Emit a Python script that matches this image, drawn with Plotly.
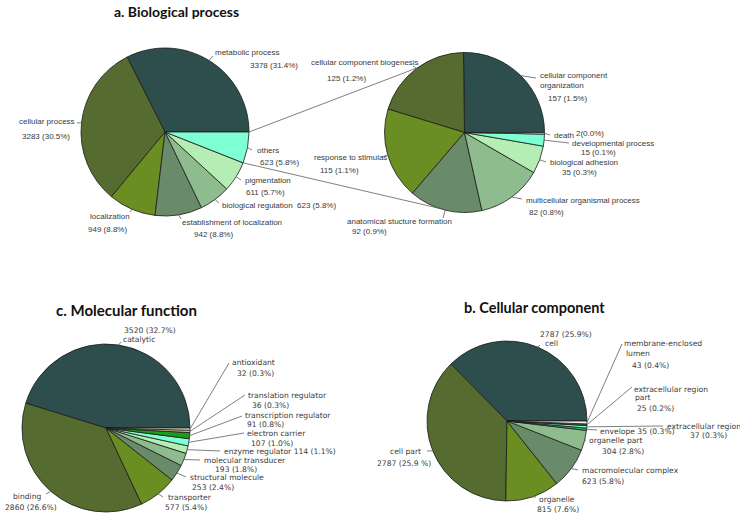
import math
import plotly.graph_objects as go

W, H = 740, 517

# ---------------- data ----------------
bp_categories = ["metabolic process", "cellular process", "localization",
                 "establishment of localization", "biological regulation",
                 "pigmentation", "others"]
bp_values = [3378, 3283, 949, 942, 623, 611, 623]
bp_value_labels = ["3378 (31.4%)", "3283 (30.5%)", "949 (8.8%)", "942 (8.8%)",
                   "623 (5.8%)", "611 (5.7%)", "623 (5.8%)"]

oth_categories = ["cellular component organization", "cellular component biogenesis",
                  "response to stimulas", "anatomical stucture formation",
                  "multicellular organismal process", "biological adhesion",
                  "developmental process", "death"]
oth_values = [157, 125, 115, 92, 82, 35, 15, 2]
oth_value_labels = ["157 (1.5%)", "125 (1.2%)", "115 (1.1%)", "92 (0.9%)",
                    "82 (0.8%)", "35 (0.3%)", "15 (0.1%)", "2(0.0%)"]

mf_categories = ["catalytic", "binding", "transporter", "structural molecule",
                 "molecular transducer", "enzyme regulator", "electron carrier",
                 "transcription regulator", "translation regulator", "antioxidant"]
mf_values = [3520, 2860, 577, 253, 193, 114, 107, 91, 36, 32]
mf_value_labels = ["3520 (32.7%)", "2860 (26.6%)", "577 (5.4%)", "253 (2.4%)",
                   "193 (1.8%)", "114 (1.1%)", "107 (1.0%)", "91 (0.8%)",
                   "36 (0.3%)", "32 (0.3%)"]

cc_categories = ["cell", "cell part", "organelle", "macromolecular complex",
                 "organelle part", "envelope", "extracellular region",
                 "extracellular region part", "membrane-enclosed lumen"]
cc_values = [2787, 2787, 815, 623, 304, 35, 37, 25, 43]
cc_value_labels = ["2787 (25.9%)", "2787 (25.9 %)", "815 (7.6%)", "623 (5.8%)",
                   "304 (2.8%)", "35 (0.3%)", "37 (0.3%)", "25 (0.2%)", "43 (0.4%)"]

titles = {"bp": "a. Biological process", "mf": "c. Molecular function",
          "cc": "b. Cellular component"}

# ---------------- styles / layout ----------------
SLATE, DOLIVE, OLIVE, SEAG4, SEAG, LGREEN, AQUA = (
    "#2E4E4E", "#556B2F", "#6B8E23", "#698B69", "#8FBC8F", "#B4EEB4", "#7FFFD4")
colors = {
    "bp": [SLATE, DOLIVE, OLIVE, SEAG4, SEAG, LGREEN, AQUA],
    "oth": [SLATE, DOLIVE, OLIVE, SEAG4, SEAG, LGREEN, AQUA, "#E4EAE0"],
    "mf": [SLATE, DOLIVE, OLIVE, SEAG4, SEAG, LGREEN, AQUA, "#1E9A1E", "#C8C08A", "#EEEEE0"],
    "cc": [SLATE, DOLIVE, OLIVE, SEAG4, SEAG, "#3CB371", AQUA, "#2E6B3E", "#F0F0E8"],
}
# pie geometry in pixels (centre x, centre y, radius)
geom = {"bp": (165, 132, 84), "oth": (464.5, 132.5, 80),
        "mf": (106, 428, 84), "cc": (507, 421, 80)}

FONT_A = dict(family="Liberation Sans, Arial, sans-serif", size=8, color="#3A3A3A")
FONT_B = dict(family="DejaVu Sans, Verdana, sans-serif", size=7.6, color="#3A3A3A")
label_font = {"bp": FONT_A, "oth": FONT_A, "mf": FONT_B, "cc": FONT_B}
title_size = {"bp": 14, "mf": 15, "cc": 14.5}
LEADER = dict(color="#606060", width=0.8)

wrap = {"cellular component organization": ["cellular component", "organization"],
        "membrane-enclosed lumen": ["membrane-enclosed", "lumen"],
        "extracellular region part": ["extracellular region", "part"]}

# per label: list of (part, x, centre-y[, x-anchor]); part: n=name, n0/n1 wrapped
# name, v=value, nv=name + value; plus leader tail point
label_layout = {
    "bp": {
        "metabolic process": ([("n", 213, 53), ("v", 248, 66)], (213, 56)),
        "cellular process": ([("n", 17, 122), ("v", 20, 136)], (77, 123)),
        "localization": ([("n", 88, 216), ("v", 86, 229)], (130, 212)),
        "establishment of localization": ([("n", 180, 223), ("v", 192, 234)], (181, 219)),
        "biological regulation": ([("n", 220, 205), ("v", 295, 205)], (219, 203)),
        "pigmentation": ([("n", 243, 180), ("v", 244, 192)], (241, 180)),
        "others": ([("n", 255, 151), ("v", 258, 162)], (252, 150)),
    },
    "oth": {
        "cellular component organization": ([("n0", 538, 76), ("n1", 538, 85), ("v", 546, 98)], (536, 78)),
        "cellular component biogenesis": ([("n", 309, 62), ("v", 325, 78)], (413, 66)),
        "response to stimulas": ([("n", 312, 158), ("v", 318, 170)], (382, 157)),
        "anatomical stucture formation": ([("n", 345, 221), ("v", 350, 231)], (443, 218)),
        "multicellular organismal process": ([("n", 524, 200), ("v", 527, 212)], (522, 199)),
        "biological adhesion": ([("n", 548, 162), ("v", 560, 172.5)], (546, 162)),
        "developmental process": ([("n", 570, 143), ("v", 579, 152.5)], (569, 143)),
        "death": ([("n", 552, 135.5), ("v", 574, 133.5)], (550, 135)),
    },
    "mf": {
        "catalytic": ([("v", 122, 330), ("n", 121, 339)], (121, 342)),
        "binding": ([("n", 43, 496, "right"), ("v", 3, 508)], (46, 494)),
        "transporter": ([("n", 166, 497), ("v", 163, 508)], (163, 497)),
        "structural molecule": ([("n", 188, 477), ("v", 190, 487.5)], (186, 477)),
        "molecular transducer": ([("n", 202, 460), ("v", 213, 469.5)], (200, 460)),
        "enzyme regulator": ([("nv", 222, 451)], (220, 451)),
        "electron carrier": ([("n", 245, 433), ("v", 249, 443)], (244, 433)),
        "transcription regulator": ([("n", 243, 415.5), ("v", 245, 424.5)], (242, 416)),
        "translation regulator": ([("n", 246, 395), ("v", 250, 405)], (245, 395)),
        "antioxidant": ([("n", 230, 362), ("v", 235, 373)], (229, 363)),
    },
    "cc": {
        "cell": ([("v", 538, 334), ("n", 543, 343)], (540, 345)),
        "cell part": ([("n", 423, 451, "right"), ("v", 433, 463, "right")], (427, 451)),
        "organelle": ([("n", 537, 499), ("v", 535, 509)], (536, 497)),
        "macromolecular complex": ([("n", 580, 470), ("v", 580, 481)], (578, 470)),
        "organelle part": ([("n", 587, 440), ("v", 600, 451)], (586, 440)),
        "envelope": ([("nv", 598, 431)], (597, 430)),
        "extracellular region": ([("n", 665, 426), ("v", 688, 435)], (663, 426)),
        "extracellular region part": ([("n0", 632, 389), ("n1", 633, 397), ("v", 635, 408)], (632, 387)),
        "membrane-enclosed lumen": ([("n0", 622, 343), ("n1", 624, 353), ("v", 630, 365)], (622, 344)),
    },
}
title_pos = {"bp": (176, 11), "mf": (126, 310), "cc": (534, 307)}
# connector between "others" slice and its breakdown pie (angles on the right pie)
connector_angles = (126, 251)

series = {
    "bp": (bp_categories, bp_values, bp_value_labels),
    "oth": (oth_categories, oth_values, oth_value_labels),
    "mf": (mf_categories, mf_values, mf_value_labels),
    "cc": (cc_categories, cc_values, cc_value_labels),
}


def px2paper(x, y):
    return x / W, 1 - y / H


def edge_point(key, angle_deg):
    cx, cy, r = geom[key]
    a = math.radians(angle_deg)
    return cx + r * math.cos(a), cy - r * math.sin(a)


def slice_angles(values):
    tot = float(sum(values))
    out, cum = [], 0.0
    for v in values:
        out.append((360 * cum / tot, 360 * (cum + v) / tot))
        cum += v
    return out


fig = go.Figure()
shapes, annotations = [], []

for key, (cats, vals, vlabs) in series.items():
    cx, cy, r = geom[key]
    x0, y1 = px2paper(cx - r, cy - r)
    x1, y0 = px2paper(cx + r, cy + r)
    # plotly (counterclockwise) puts the first slice clockwise of `rotation`;
    # shift so that the first slice starts at 3 o'clock and runs counterclockwise
    first_span = 360.0 * vals[0] / sum(vals)
    fig.add_trace(go.Pie(
        labels=cats, values=vals, sort=False, direction="counterclockwise",
        rotation=90 - first_span, textinfo="none", hoverinfo="label+value",
        marker=dict(colors=colors[key], line=dict(color="#1A1A1A", width=0.8)),
        domain=dict(x=[x0, x1], y=[y0, y1]), showlegend=False))

    angs = slice_angles(vals)
    for cat, vlab, (a0, a1) in zip(cats, vlabs, angs):
        parts, tail = label_layout[key][cat]
        ex, ey = edge_point(key, (a0 + a1) / 2)
        px0, py0 = px2paper(ex, ey)
        px1, py1 = px2paper(*tail)
        shapes.append(dict(type="line", xref="paper", yref="paper",
                           x0=px0, y0=py0, x1=px1, y1=py1, line=LEADER))
        for item in parts:
            part, lx, ly = item[:3]
            anchor = item[3] if len(item) > 3 else "left"
            if part == "n":
                txt = cat
            elif part == "n0":
                txt = wrap[cat][0]
            elif part == "n1":
                txt = wrap[cat][1]
            elif part == "v":
                txt = vlab
            else:
                txt = cat + " " + vlab
            ax_, ay_ = px2paper(lx, ly)
            annotations.append(dict(text=txt, x=ax_, y=ay_, xref="paper", yref="paper",
                                    xanchor=anchor, yanchor="middle", showarrow=False,
                                    font=label_font[key]))

# connectors from the "others" slice to the breakdown pie
others_a0, others_a1 = slice_angles(bp_values)[bp_categories.index("others")]
for a_src, a_dst in ((others_a1, connector_angles[0]), (others_a0, connector_angles[1])):
    sx, sy = edge_point("bp", a_src)
    dx, dy = edge_point("oth", a_dst)
    p0 = px2paper(sx, sy)
    p1 = px2paper(dx, dy)
    shapes.append(dict(type="line", xref="paper", yref="paper",
                       x0=p0[0], y0=p0[1], x1=p1[0], y1=p1[1], line=LEADER))

for key, txt in titles.items():
    tx, ty = px2paper(*title_pos[key])
    annotations.append(dict(text="<b>" + txt + "</b>", x=tx, y=ty, xref="paper", yref="paper",
                            xanchor="center", yanchor="middle", showarrow=False,
                            font=dict(family="Lato, sans-serif", size=title_size[key],
                                      color="#111111")))

fig.update_layout(width=W, height=H, margin=dict(l=0, r=0, t=0, b=0),
                  paper_bgcolor="white", plot_bgcolor="white",
                  shapes=shapes, annotations=annotations)

# remove the default page margin so the figure sits at the window corner
fig.write_html("out.html", config={"displayModeBar": False},
               post_script="document.body.style.margin='0';document.body.style.overflow='hidden';")
